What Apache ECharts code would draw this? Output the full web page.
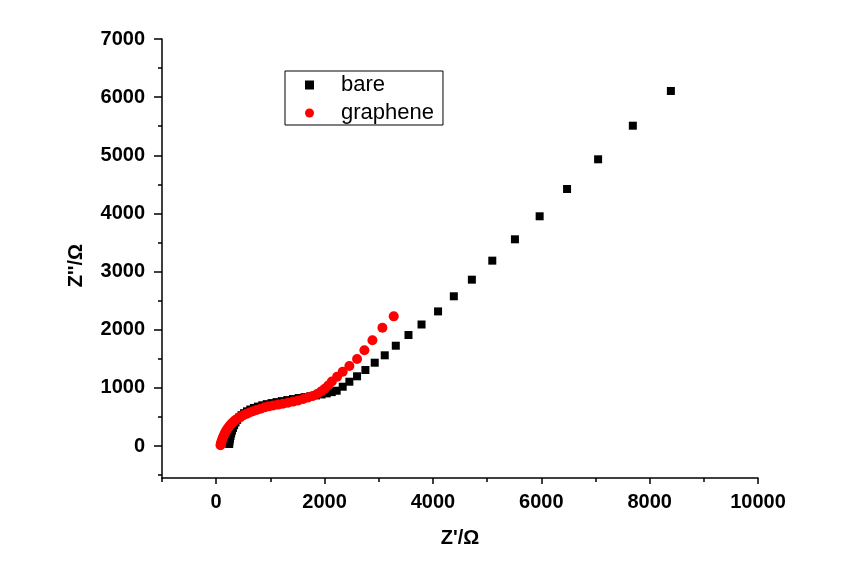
<!DOCTYPE html>
<html>
<head>
<meta charset="utf-8">
<script src="https://cdn.jsdelivr.net/npm/echarts@6/dist/echarts.min.js"></script>
<style>
html,body{margin:0;padding:0;background:#fff;}
#chart{width:864px;height:568px;}
</style>
</head>
<body>
<div id="chart"></div>
<script>
// ---- data ----
const seriesNames = ['bare', 'graphene'];

const bareX = [240, 246, 254, 264, 276, 291, 309, 331, 357, 388, 425, 467, 515, 569, 630, 697, 770, 849, 933, 1022, 1115, 1212, 1313, 1417, 1523, 1630, 1737, 1842, 1945, 2040, 2133, 2224, 2335, 2458, 2600, 2754, 2926, 3111, 3315, 3549, 3790, 4095, 4386, 4719, 5096, 5514, 5970, 6476, 7049, 7690, 8392];
const bareY = [35, 80, 125, 170, 215, 262, 310, 358, 405, 450, 492, 530, 565, 597, 628, 655, 678, 700, 720, 738, 755, 772, 790, 808, 825, 840, 855, 870, 887, 905, 927, 951, 1020, 1106, 1199, 1307, 1433, 1560, 1725, 1909, 2090, 2315, 2575, 2861, 3188, 3555, 3951, 4420, 4931, 5509, 6106];

const grapheneX = [80, 88, 98, 110, 124, 140, 158, 178, 201, 227, 256, 288, 323, 362, 405, 452, 503, 558, 617, 680, 747, 818, 893, 972, 1055, 1142, 1232, 1325, 1420, 1515, 1608, 1698, 1783, 1862, 1935, 2003, 2068, 2135, 2232, 2335, 2458, 2600, 2736, 2884, 3068, 3277];
const grapheneY = [15, 45, 78, 112, 147, 182, 218, 253, 288, 322, 356, 389, 420, 450, 478, 505, 530, 553, 577, 599, 620, 640, 665, 682, 697, 712, 728, 745, 764, 785, 808, 833, 862, 896, 938, 985, 1040, 1110, 1192, 1278, 1376, 1496, 1646, 1818, 2035, 2230];

const xLabelValues = [0, 2000, 4000, 6000, 8000, 10000];
const xMinorValues = [-1000, 1000, 3000, 5000, 7000, 9000];
const yLabelValues = [0, 1000, 2000, 3000, 4000, 5000, 6000, 7000];
const yMinorValues = [-500, 500, 1500, 2500, 3500, 4500, 5500, 6500];

const xName = "Z'/Ω";
const yName = "Z''/Ω";

// ---- chart ----
const FONT = 'Liberation Sans, Arial, sans-serif';
const toPairs = (xs, ys) => xs.map((x, i) => [x, ys[i]]);
const X_MIN = -1000, X_MAX = 10000, Y_MIN = -550, Y_MAX = 7000;

const chart = echarts.init(document.getElementById('chart'), null, {renderer: 'canvas'});
chart.setOption({
  animation: false,
  backgroundColor: '#ffffff',
  grid: {left: 162, right: 106, top: 39, bottom: 90, containLabel: false},
  legend: {
    orient: 'vertical',
    left: 285, top: 71,
    padding: [3, 9, 1, 20],
    borderColor: '#000', borderWidth: 1,
    itemWidth: 9, itemHeight: 9, itemGap: 6,
    textStyle: {fontSize: 22, fontFamily: FONT, color: '#000', padding: [0, 0, 0, 22]},
    data: [{name: seriesNames[0], icon: 'rect'}, {name: seriesNames[1], icon: 'circle'}]
  },
  xAxis: [{
    type: 'value', min: X_MIN, max: X_MAX,
    name: xName, nameLocation: 'middle', nameGap: 50,
    nameTextStyle: {fontSize: 20, fontWeight: 'bold', fontFamily: FONT, color: '#000'},
    axisLine: {show: true, onZero: false, lineStyle: {color: '#000', width: 1.5}},
    axisTick: {show: true, length: 6, customValues: xLabelValues, lineStyle: {color: '#000', width: 1.5}},
    axisLabel: {show: true, customValues: xLabelValues, margin: 14, fontSize: 20, fontWeight: 'bold', fontFamily: FONT, color: '#000', formatter: v => String(v)},
    splitLine: {show: false}
  }, {
    type: 'value', min: X_MIN, max: X_MAX, position: 'bottom',
    axisLine: {show: false, onZero: false},
    axisTick: {show: true, length: 4, customValues: xMinorValues, lineStyle: {color: '#000', width: 1.5}},
    axisLabel: {show: false},
    splitLine: {show: false}
  }],
  yAxis: [{
    type: 'value', min: Y_MIN, max: Y_MAX,
    name: yName, nameLocation: 'middle', nameGap: 76, nameRotate: 90,
    nameTextStyle: {fontSize: 20, fontWeight: 'bold', fontFamily: FONT, color: '#000', padding: [0, 14, 0, 0]},
    axisLine: {show: true, onZero: false, lineStyle: {color: '#000', width: 1.5}},
    axisTick: {show: true, length: 8, customValues: yLabelValues, lineStyle: {color: '#000', width: 1.5}},
    axisLabel: {show: true, customValues: yLabelValues, margin: 17, fontSize: 20, fontWeight: 'bold', fontFamily: FONT, color: '#000', formatter: v => String(v)},
    splitLine: {show: false}
  }, {
    type: 'value', min: Y_MIN, max: Y_MAX, position: 'left',
    axisLine: {show: false, onZero: false},
    axisTick: {show: true, length: 4, customValues: yMinorValues, lineStyle: {color: '#000', width: 1.5}},
    axisLabel: {show: false},
    splitLine: {show: false}
  }],
  series: [{
    name: seriesNames[0], type: 'scatter', xAxisIndex: 0, yAxisIndex: 0,
    symbol: 'rect', symbolSize: 8,
    itemStyle: {color: '#000000', opacity: 1},
    data: toPairs(bareX, bareY)
  }, {
    name: seriesNames[1], type: 'scatter', xAxisIndex: 0, yAxisIndex: 0,
    symbol: 'circle', symbolSize: 10,
    itemStyle: {color: '#ff0000', opacity: 1},
    data: toPairs(grapheneX, grapheneY)
  }]
});
</script>
</body>
</html>
